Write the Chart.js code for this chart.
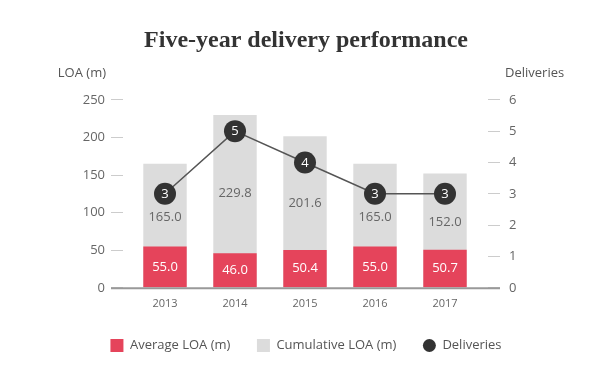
<!DOCTYPE html>
<html>
<head>
<meta charset="utf-8">
<script src="https://cdn.jsdelivr.net/npm/chart.js@4"></script>
<style>
  html, body { margin: 0; padding: 0; background: #fff; }
  #wrap { width: 600px; height: 377px; }
</style>
</head>
<body>
<div id="wrap"><canvas id="myChart" width="600" height="377"></canvas></div>
<script>
const years = ["2013", "2014", "2015", "2016", "2017"];
const avgLoa = [55.0, 46.0, 50.4, 55.0, 50.7];
const cumLoa = [165.0, 229.8, 201.6, 165.0, 152.0];
const deliveries = [3, 5, 4, 3, 3];

Chart.defaults.font.family = "'Open Sans'";

// value labels, axis headers and the base line
const extras = {
    id: "extras",
    afterDatasetsDraw(chart) {
        const ctx = chart.ctx;
        const yL = chart.scales.y;
        const yR = chart.scales.y1;
        const zero = yL.getPixelForValue(0);

        ctx.save();
        ctx.strokeStyle = "#999";
        ctx.lineWidth = 2;
        ctx.beginPath();
        ctx.moveTo(yL.right - 19, zero + 0.5);
        ctx.lineTo(yR.left + 20, zero + 0.5);
        ctx.stroke();

        ctx.font = "13px 'Open Sans'";
        ctx.textAlign = "center";
        ctx.textBaseline = "middle";

        chart.getDatasetMeta(1).data.forEach((bar, i) => {
            ctx.fillStyle = "#666";
            ctx.fillText(cumLoa[i].toFixed(1), bar.x, (bar.y + bar.base) / 2 - 8);
        });
        chart.getDatasetMeta(0).data.forEach((bar, i) => {
            ctx.fillStyle = "#fff";
            ctx.fillText(avgLoa[i].toFixed(1), bar.x, (bar.y + bar.base) / 2);
        });
        ctx.restore();
    },
    afterDraw(chart) {
        const ctx = chart.ctx;
        const yL = chart.scales.y;
        const yR = chart.scales.y1;
        const top = chart.chartArea.top;

        ctx.save();
        ctx.font = "13px 'Open Sans'";
        ctx.textBaseline = "middle";
        ctx.textAlign = "center";
        ctx.fillStyle = "#fff";
        chart.getDatasetMeta(2).data.forEach((pt, i) => {
            ctx.fillText(String(deliveries[i]), pt.x, pt.y + 0.5);
        });

        ctx.fillStyle = "#555";
        ctx.textAlign = "right";
        ctx.fillText("LOA (m)", yL.right - 24, top - 27);
        ctx.textAlign = "left";
        ctx.fillText("Deliveries", yR.left + 25, top - 27);
        ctx.restore();
    }
};

const canvas = document.getElementById("myChart");

const data = {
    labels: years,
    datasets: [
        {
            type: "bar",
            label: "Average LOA (m)",
            data: avgLoa,
            backgroundColor: "#E5445B",
            yAxisID: "y",
            order: 1,
            grouped: false,
            barPercentage: 0.62,
            categoryPercentage: 1
        },
        {
            type: "bar",
            label: "Cumulative LOA (m)",
            data: cumLoa,
            backgroundColor: "#DCDCDC",
            yAxisID: "y",
            order: 2,
            grouped: false,
            barPercentage: 0.62,
            categoryPercentage: 1
        },
        {
            type: "line",
            label: "Deliveries",
            data: deliveries,
            yAxisID: "y1",
            order: 0,
            borderColor: "#555",
            borderWidth: 1.5,
            backgroundColor: "#333",
            pointRadius: 11,
            pointHoverRadius: 11,
            pointBackgroundColor: "#333",
            pointBorderWidth: 0
        }
    ]
};

const options = {
    responsive: false,
    animation: false,
    layout: { padding: { left: 12, bottom: 15 } },
    plugins: {
        tooltip: { enabled: false },
        title: {
            display: true,
            text: "Five-year delivery performance",
            color: "#333",
            font: { family: "Liberation Serif", size: 24, weight: "bold" },
            padding: { top: 26, bottom: 45 }
        },
        legend: {
            position: "bottom",
            labels: {
                color: "#555",
                font: { size: 13 },
                boxWidth: 13,
                boxHeight: 13,
                padding: 20,
                generateLabels(chart) {
                    const items = Chart.defaults.plugins.legend.labels.generateLabels(chart);
                    items.sort((a, b) => a.datasetIndex - b.datasetIndex);
                    items.forEach((it) => {
                        it.lineWidth = 0;
                        if (it.datasetIndex < 2) {
                            it.text = it.text + "\u2002";
                        } else {
                            it.borderRadius = 6.5;
                            it.fillStyle = "#333";
                        }
                    });
                    return items;
                }
            }
        }
    },
    scales: {
        x: {
            grid: { display: false, drawTicks: false },
            border: { display: false },
            ticks: { color: "#666", font: { size: 11 }, padding: 9 }
        },
        y: {
            position: "left",
            min: 0,
            max: 250,
            afterFit(scale) { scale.width = 118; },
            ticks: { stepSize: 50, color: "#666", font: { size: 13 }, padding: 6 },
            grid: {
                drawOnChartArea: false,
                tickLength: 19,
                tickColor: "#ccc",
                tickBorderDash: [12, 20]
            },
            border: { display: false }
        },
        y1: {
            position: "right",
            min: 0,
            max: 6,
            afterFit(scale) { scale.width = 120; },
            ticks: { stepSize: 1, color: "#666", font: { size: 13 }, padding: 9 },
            grid: {
                drawOnChartArea: false,
                tickLength: 20,
                tickColor: "#ccc",
                tickBorderDash: [12, 8],
                tickBorderDashOffset: 12
            },
            border: { display: false }
        }
    }
};

const myChart = new Chart(canvas, {
    data: data,
    options: options,
    plugins: [extras]
});
</script>
</body>
</html>
